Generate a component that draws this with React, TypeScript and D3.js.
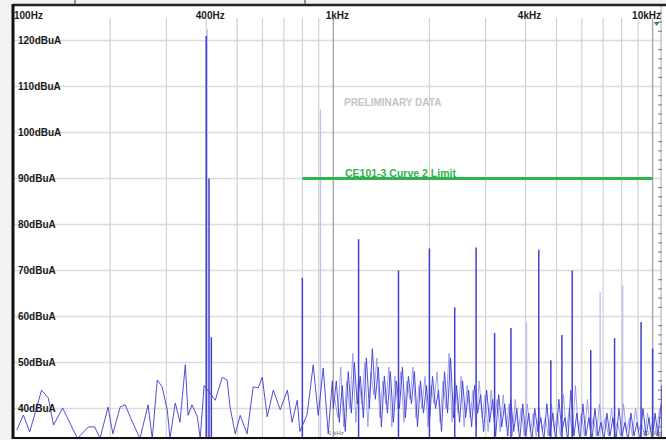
import React from 'react';
import * as d3 from 'd3';

const W = 666;
const H = 440;

// axis ticks
const xTickFreqs = [100, 400, 1000, 4000, 10000];
const xTickLabels = ['100Hz', '400Hz', '1kHz', '4kHz', '10kHz'];
const yTickValues = [40, 50, 60, 70, 80, 90, 100, 110, 120];
const yTickLabels = yTickValues.map((v) => `${v}dBuA`);
const minorGridFreqs = [200, 300, 400, 500, 600, 700, 800, 900, 2000, 3000, 4000, 5000, 6000, 7000, 8000, 9000];
const decadeGridFreqs = [1000, 10000];

// limit line
const limitFreqs = [800, 10000];
const limitLevels = [90, 90];
const limitLabel = 'CE101-3 Curve 2 Limit';
const watermark = 'PRELIMINARY DATA';

// measured noise trace (Hz, dBuA)
const lowNoiseFreqs = [102, 107, 112, 122, 128, 133, 142, 158, 171, 179, 186, 197, 204, 215, 223, 231, 248, 263, 271, 281, 291, 302, 308, 320, 331, 344, 351, 361, 375, 383, 394, 427, 449, 465, 475, 493, 511, 537, 561, 582, 599, 621, 649, 682, 718, 743, 771, 786, 828, 865, 897, 930, 964, 993];
const lowNoiseLevels = [35.3, 38.6, 34.9, 44, 42.3, 36.4, 40.1, 33.5, 36, 36, 33.5, 40.3, 34.5, 40.3, 40.8, 38.2, 33.5, 40.8, 33.5, 46.2, 44.7, 39.7, 33.5, 41.2, 37, 49.5, 38.5, 40.8, 38.2, 33.5, 45, 41.8, 46.8, 46.2, 40.3, 34.5, 38.5, 34.5, 44.7, 44.5, 46.8, 38.2, 44, 39.7, 44, 37, 41.8, 35, 38.7, 49.5, 38.5, 48.8, 34.5, 46];

const highNoiseFreqs = [1000, 1022, 1044, 1067, 1090, 1114, 1139, 1164, 1189, 1215, 1242, 1269, 1297, 1325, 1354, 1384, 1414, 1445, 1477, 1509, 1542, 1576, 1611, 1646, 1682, 1719, 1757, 1795, 1835, 1875, 1916, 1958, 2001, 2045, 2090, 2136, 2182, 2230, 2279, 2329, 2380, 2432, 2486, 2540, 2596, 2653, 2711, 2770, 2831, 2893, 2957, 3021, 3088, 3155, 3225, 3295, 3368, 3442, 3517, 3594, 3673, 3754, 3836, 3920, 4006, 4094, 4184, 4275, 4369, 4465, 4563, 4663, 4765, 4869, 4976, 5085, 5197, 5311, 5427, 5546, 5667, 5792, 5919, 6048, 6181, 6316, 6455, 6596, 6741, 6888, 7039, 7194, 7351, 7513, 7677, 7845, 8017, 8193, 8373, 8556, 8744, 8935, 9131, 9331, 9536, 9745, 9958, 10176, 10399, 10627];
const highNoiseLevels = [40, 46, 37, 45, 35, 48, 39, 50, 41, 47, 38, 51, 40, 53, 42, 49, 36, 47, 39, 48, 37, 46, 40, 49, 38, 47, 41, 48, 36, 46, 39, 45, 37, 47, 40, 44, 35, 48, 39, 51, 38, 45, 37, 46, 38, 44, 36, 45, 39, 43, 35, 44, 37, 42, 34, 43, 36, 41, 34, 42, 35, 40, 33, 41, 34, 39, 33, 40, 35, 38, 33, 41, 34, 39, 33, 42, 35, 38, 33, 44, 34, 39, 33, 41, 34, 38, 33, 40, 34, 37, 33, 39, 34, 38, 33, 40, 34, 37, 33, 39, 34, 37, 33, 40, 34, 38, 33, 39, 34, 41];

// max-hold (lighter) trace
const holdFreqs = [1011, 1033, 1055, 1078, 1102, 1126, 1151, 1176, 1202, 1228, 1255, 1283, 1311, 1339, 1369, 1399, 1429, 1461, 1493, 1525, 1559, 1593, 1628, 1664, 1700, 1738, 1776, 1815, 1855, 1895, 1937, 1979, 2023, 2067, 2113, 2159, 2206, 2254, 2304, 2354, 2406, 2459, 2513, 2568, 2624, 2682, 2740, 2800, 2862, 2925, 2989, 3054, 3121, 3190, 3260, 3331, 3404, 3479, 3555, 3633, 3713, 3795, 3878, 3963, 4050, 4139, 4229, 4322, 4417, 4514, 4613, 4714, 4817, 4922, 5030, 5141, 5254, 5369, 5486, 5606, 5729, 5855, 5983, 6114, 6248, 6385, 6525, 6668, 6814, 6963, 7116, 7272, 7431, 7594, 7760, 7931, 8104, 8282, 8464, 8649, 8839, 9033, 9231, 9433, 9640, 9851, 10067, 10287, 10513];
const holdLevels = [42, 38, 49, 36, 46, 40, 52, 37, 47, 41, 50, 36, 48, 43, 51, 38, 46, 41, 49, 36, 47, 40, 48, 37, 46, 42, 49, 38, 45, 40, 47, 36, 45, 41, 48, 37, 46, 40, 52, 37, 46, 39, 47, 36, 45, 38, 44, 36, 46, 38, 43, 35, 44, 37, 42, 35, 43, 36, 41, 34, 42, 35, 40, 34, 41, 35, 39, 34, 40, 35, 38, 34, 41, 35, 39, 34, 43, 35, 40, 34, 45, 35, 39, 34, 42, 35, 38, 34, 41, 35, 38, 34, 40, 35, 37, 34, 41, 35, 38, 34, 40, 35, 37, 34, 39, 35, 38, 34, 40];

// harmonic spikes
const spikeFreqs = [400, 408, 415, 800, 1200, 1600, 2000, 2400, 2800, 3200, 3600, 4400, 4800, 5200, 5600, 6400, 7600, 9200, 10000, 10700];
const spikeLevels = [121, 90, 55.5, 68.4, 76.8, 70, 74.8, 62, 75, 56.4, 57.5, 74.5, 50.5, 56, 70, 52.7, 55.3, 58.8, 53, 45];
const lightSpikeFreqs = [400, 905, 4000, 6800, 8000];
const lightSpikeLevels = [122.5, 105, 58.6, 65.3, 66.8];

const FONT = "'Liberation Sans', Arial, sans-serif";

export default function App() {
  const left = 14;
  const right = 662;
  const top = 6;
  const bottom = 437;
  const x = d3.scaleLog().domain([100, 10700]).range([left, right]);
  const y = d3.scaleLinear().domain([40, 120]).range([408.5, 40.5]);
  const floor = y.invert(bottom);

  const noise = [
    ...lowNoiseFreqs.map((f, i) => [f, lowNoiseLevels[i]] as [number, number]),
    ...highNoiseFreqs.map((f, i) => [f, highNoiseLevels[i]] as [number, number]),
  ];
  const hold = holdFreqs.map((f, i) => [f, holdLevels[i]] as [number, number]);
  const line = d3.line<[number, number]>().x((d) => x(d[0])).y((d) => y(d[1]));
  const limitLine = d3.line<number>().x((f) => x(f)).y((_, i) => y(limitLevels[i]));

  const minorY: number[] = d3.range(34, 128, 2).filter((v) => v % 10 !== 0);
  const anchors = ['start', 'middle', 'middle', 'middle', 'end'];
  const xLabelPos = (i: number) => (i === 0 ? x(xTickFreqs[0]) : i === 4 ? 661 : x(xTickFreqs[i]) + 4);

  return (
    <svg width={W} height={H} style={{ position: 'absolute', left: 0, top: 0 }} fontFamily={FONT}>
      <defs>
        <clipPath id="plot">
          <rect x={left} y={top} width={right - left} height={bottom - top} />
        </clipPath>
      </defs>
      <rect x={0} y={0} width={W} height={H} fill="#f3f3f3" />
      <rect x={left} y={top} width={right - left} height={bottom - top} fill="#ffffff" />
      <rect x={right} y={top} width={W - right} height={bottom - top} fill="#ffffff" />

      {/* horizontal grid */}
      {yTickValues.map((v) => (
        <line key={'h' + v} x1={left} x2={right} y1={y(v)} y2={y(v)} stroke="#dcdcdc" strokeWidth={1.5} />
      ))}
      {/* vertical grid */}
      {minorGridFreqs.map((f) => (
        <line key={'v' + f} x1={x(f)} x2={x(f)} y1={top + 12} y2={bottom} stroke="#d2d2d2" strokeWidth={1.2} />
      ))}
      {decadeGridFreqs.map((f) => (
        <line key={'d' + f} x1={x(f)} x2={x(f)} y1={top + 12} y2={bottom} stroke="#a8a8a8" strokeWidth={1.4} />
      ))}
      <line x1={right - 1} x2={right - 1} y1={top} y2={bottom} stroke="#b8b8b8" strokeWidth={1.2} />
      {/* right minor ticks */}
      {minorY.map((v) => (
        <line key={'t' + v} x1={right - 4} x2={right} y1={y(v)} y2={y(v)} stroke="#777" strokeWidth={1} />
      ))}

      <text x={x(1080)} y={106} fontSize={10} fontWeight="bold" fill="#c4c4c4">{watermark}</text>

      <g clipPath="url(#plot)">
        {lightSpikeFreqs.map((f, i) => (
          <line key={'ls' + i} x1={x(f) + 1} x2={x(f) + 1} y1={y(floor)} y2={y(lightSpikeLevels[i])} stroke="#c2c2f2" strokeWidth={1.4} />
        ))}
        <path d={line(hold) || ''} fill="none" stroke="#8c8ce6" strokeWidth={1} strokeOpacity={0.8} />
        <path d={line(noise) || ''} fill="none" stroke="#3c3cd0" strokeWidth={1} strokeOpacity={0.9} />
        {spikeFreqs.map((f, i) => (
          <line key={'s' + i} x1={x(f)} x2={x(f)} y1={y(floor)} y2={y(spikeLevels[i])} stroke="#4040d2" strokeWidth={1.5} />
        ))}
      </g>

      {/* limit */}
      <path d={limitLine(limitFreqs) || ''} fill="none" stroke="#2fb24f" strokeWidth={3} />
      <text x={345} y={177} fontSize={10.5} fontWeight="bold" fill="#2fb24f">{limitLabel}</text>

      {/* y labels */}
      {yTickValues.map((v, i) => (
        <text key={'yl' + v} x={18} y={y(v) + 3.5} fontSize={10} fontWeight="bold" fill="#1a1a1a">{yTickLabels[i]}</text>
      ))}
      {/* x labels */}
      {xTickFreqs.map((f, i) => (
        <text key={'xl' + f} x={xLabelPos(i)} y={19} fontSize={10} fontWeight="bold" fill="#1a1a1a" textAnchor={anchors[i]}>{xTickLabels[i]}</text>
      ))}
      <text x={x(1000) - 5} y={435} fontSize={6} fill="#666">1 kHz</text>
      <text x={x(10000) - 10} y={435} fontSize={6} fill="#666">10 kHz</text>
      <path d={`M${x(10300) - 3},22 L${x(10300) + 3},22 L${x(10300)},26 Z`} fill="#3d7d99" />

      {/* frame */}
      <line x1={left - 1} x2={W} y1={5} y2={5} stroke="#222" strokeWidth={2.5} />
      <line x1={left - 1} x2={left - 1} y1={4} y2={bottom + 2} stroke="#111" strokeWidth={3} />
      <line x1={left - 1} x2={W} y1={bottom + 1} y2={bottom + 1} stroke="#111" strokeWidth={2} />
      <line x1={75} x2={75} y1={0} y2={5} stroke="#333" strokeWidth={1} />
      <line x1={305} x2={305} y1={0} y2={5} stroke="#333" strokeWidth={1} />
    </svg>
  );
}
